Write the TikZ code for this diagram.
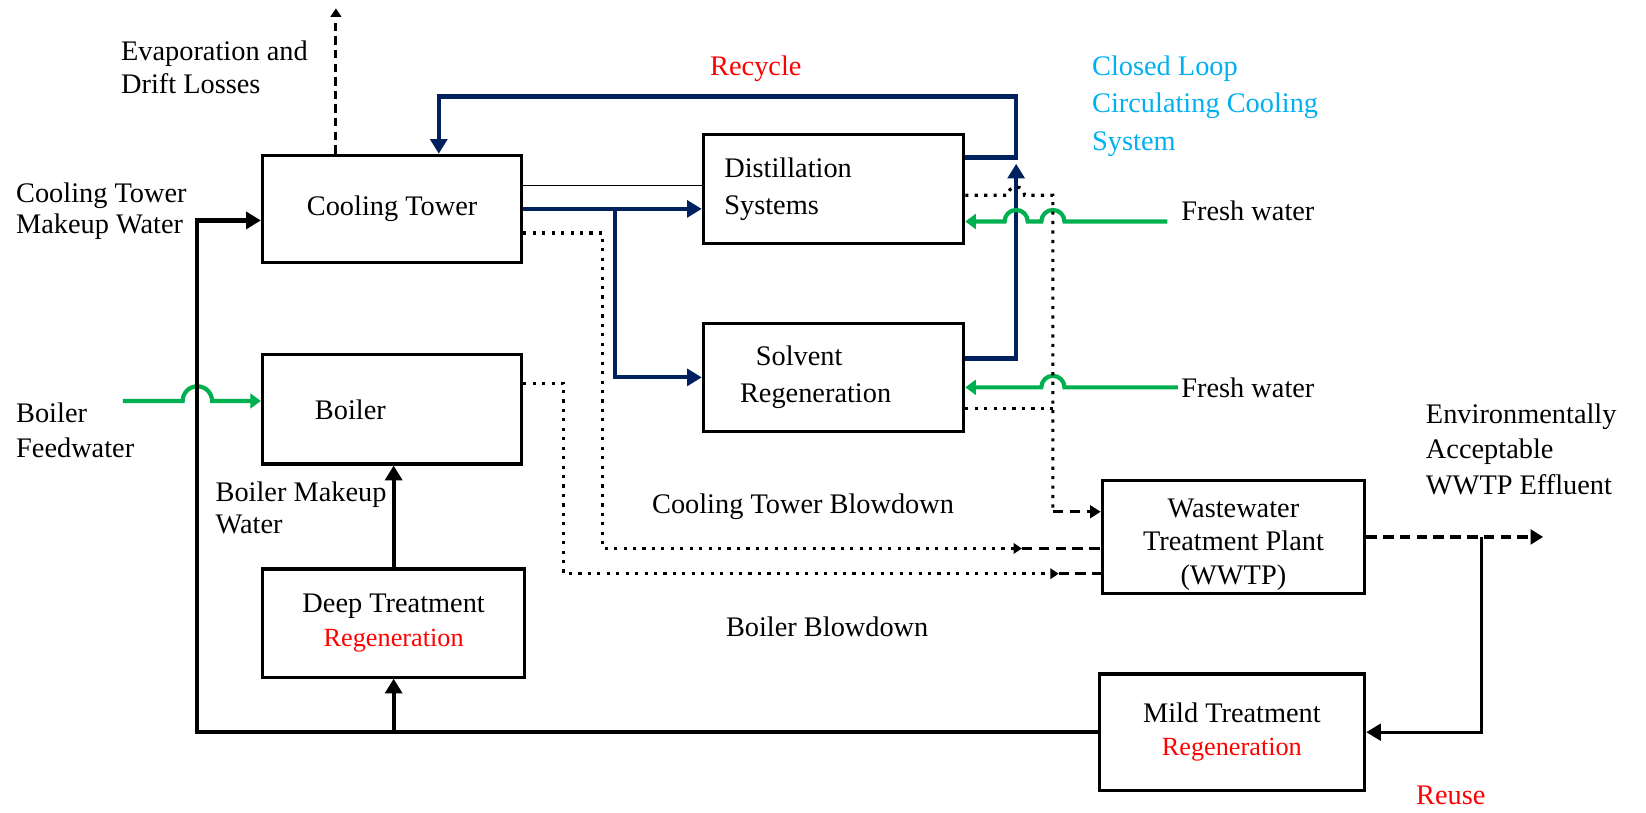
\documentclass[tikz,border=0pt]{standalone}
\usepackage{fontspec}
\setmainfont{Liberation Serif}
\usetikzlibrary{arrows.meta, calc}
\definecolor{navy}{RGB}{0,32,96}
\definecolor{freshgreen}{RGB}{0,176,80}
\definecolor{loopblue}{RGB}{0,176,240}
\newcommand{\regentext}{\textcolor{red}{\fontsize{12.5}{15}\selectfont Regeneration}}

\begin{document}
\begin{tikzpicture}[
    x=0.5pt, y=-0.5pt,
    txt/.style={font=\fontsize{13.5}{16}\selectfont, inner sep=0pt},
    plant/.style={draw, line width=1.5pt, inner sep=0pt, align=center,
      font=\fontsize{13.5}{16}\selectfont},
    navyline/.style={draw=navy, line width=2pt},
    navyarrow/.style={navyline, -{Triangle[length=7pt, width=8pt]}},
    feedline/.style={draw=freshgreen, line width=2pt, -{Triangle[length=5pt, width=7pt]}},
    mainline/.style={line width=2pt, -{Triangle[length=7pt, width=8pt]}},
    drain/.style={line width=1.5pt, dash pattern=on 1.5pt off 3pt,
      -{Triangle[length=4pt, width=5pt]}},
    waste/.style={line width=1.5pt, dash pattern=on 5pt off 3pt},
  ]
    \useasboundingbox (0,0) rectangle (1568,774);

    \node[plant, minimum width=123.5pt, minimum height=51pt] (ct) at (373.5,199) {Cooling Tower};
    \node[plant, minimum width=124pt, minimum height=52pt, text width=104pt, align=left,
      font=\fontsize{13.5}{17.5}\selectfont] (dist) at (794,180) {Distillation\\Systems};
    \node[plant, minimum width=124pt, minimum height=51.5pt, text width=89pt, align=left,
      font=\fontsize{13.5}{17.5}\selectfont] (solv) at (794,359.5) {\hspace*{7.5pt}Solvent\\Regeneration};
    \node[plant, minimum width=123.5pt, minimum height=52pt, text width=73.5pt, align=left] (boiler) at (373.5,390) {Boiler};
    \node[plant, minimum width=125pt, minimum height=51.5pt] (deep) at (375,593.5) {Deep Treatment\\\regentext};
    \node[plant, minimum width=125pt, minimum height=53.5pt] (wwtp) at (1175,511.5) {\rule{0pt}{16pt}Wastewater\\Treatment Plant\\(WWTP)};
    \node[plant, minimum width=126.5pt, minimum height=55.5pt] (mild) at (1173.5,697.5) {Mild Treatment\\\regentext};

    \node[txt, anchor=west, align=left] (evap) at (115,64) {Evaporation and\\Drift Losses};
    \node[txt, text=red] (recycle) at (720,65) {Recycle};
    \node[txt, anchor=west, align=left, text=loopblue, font=\fontsize{13.5}{18}\selectfont] (closed) at (1040,101) {Closed Loop\\Circulating Cooling\\System};
    \node[txt, anchor=west, align=left, font=\fontsize{13.5}{15}\selectfont] (ctmw) at (15,201) {Cooling Tower\\Makeup Water};
    \node[txt, anchor=west, align=left, font=\fontsize{13.5}{17}\selectfont] (bfw) at (15,410) {Boiler\\Feedwater};
    \node[txt, anchor=west, align=left, font=\fontsize{13.5}{15}\selectfont] (bmw) at (205,484) {Boiler Makeup\\Water};
    \node[txt] (ctbd) at (765,483) {Cooling Tower Blowdown};
    \node[txt] (bbd) at (788,597) {Boiler Blowdown};
    \node[txt, anchor=west] (fw1) at (1125,201) {Fresh water};
    \node[txt, anchor=west] (fw2) at (1125,369) {Fresh water};
    \node[txt, anchor=west, align=left, font=\fontsize{13.5}{17}\selectfont] (env) at (1358,428) {Environmentally\\Acceptable\\WWTP Effluent};
    \node[txt, text=red] (reuse) at (1382,758) {Reuse};

    \coordinate (evtop) at (320,8);
    \coordinate (rx) at (968,92);
    \coordinate (bx) at (586,199);
    \coordinate (dx) at (1003,186);
    \coordinate (ctbx) at (574,222);
    \coordinate (bbx) at (537,365);
    \coordinate (lx) at (188,702);
    \coordinate (fwa) at (1112,211);
    \coordinate (fwb) at (1122,369);
    \coordinate (bfa) at (117,382);
    \coordinate (effl) at (1470,511.5);
    \coordinate (rj) at (1411,511.5);
    \coordinate (thin) at ([yshift=11pt]ct.east);
    \coordinate (sd) at ([yshift=-15pt]solv.east);
    \coordinate (w1) at ([yshift=12pt]wwtp.west);
    \coordinate (w2) at ([yshift=-5.5pt]wwtp.west);
    \coordinate (w3) at ([yshift=-17.5pt]wwtp.west);
    \coordinate (ctin) at ([yshift=-5.5pt]ct.west);

    % losses and recycle
    \draw[line width=1.5pt, dash pattern=on 4pt off 2.5pt, -{Triangle[length=4pt, width=5pt]}] (evtop |- ct.north) -- (evtop);
    \draw[line width=0.6pt] (thin) -- (thin -| dist.west);
    \draw[navyarrow] (ct.east) -- (ct.east -| dist.west);
    \draw[navyarrow] (bx) |- (solv.west);
    \draw[navyarrow] ([yshift=9pt]solv.east) -| ($(rx |- dist.east)+(0pt,12pt)$);
    \draw[navyarrow] ([yshift=15pt]dist.east) -| (rx) -| ([xshift=22.25pt]ct.north);

    % fresh water
    \draw[feedline] (fwa) -- ($(dx |- fwa)+(5.5pt,0pt)$) arc[start angle=0, end angle=180, radius=5.5pt]
      -- ($(rx |- fwa)+(5.5pt,0pt)$) arc[start angle=0, end angle=180, radius=5.5pt] -- (fwa -| dist.east);
    \draw[feedline] (fwb) -- ($(dx |- fwb)+(5.5pt,0pt)$) arc[start angle=0, end angle=180, radius=5.5pt] -- (fwb -| solv.east);
    \draw[feedline] (bfa) -- ($(lx |- bfa)+(-7pt,0pt)$) arc[start angle=180, end angle=0, radius=7pt] -- (bfa -| boiler.west);

    % blowdown
    \draw[drain, -] ([yshift=-3pt]dist.east) -- ($(rx |- dx)+(-4pt,0pt)$) arc[start angle=180, end angle=0, radius=4pt]
      -- (dx) -- (dx |- w1);
    \draw[drain, -] (sd) -- (sd -| dx);
    \draw[waste, -{Triangle[length=5pt, width=6pt]}] (dx |- w1) -- (w1);
    \draw[drain] ([yshift=-11.5pt]ct.east) -| (ctbx |- w2) -- ($(w2)+(-37.5pt,0pt)$);
    \draw[waste] ($(w2)+(-37.5pt,0pt)$) -- (w2);
    \draw[drain] ([yshift=12.5pt]boiler.east) -| (bbx |- w3) -- ($(w3)+(-20pt,0pt)$);
    \draw[waste] ($(w3)+(-20pt,0pt)$) -- (w3);

    % effluent and reuse
    \draw[waste, -{Triangle[length=6pt, width=7pt]}] (wwtp.east) -- (effl);
    \draw[line width=1.4pt, -{Triangle[length=7pt, width=8pt]}] (rj) |- (mild.east);
    \draw[mainline] (mild.west) -| (lx |- ctin) -- (ctin);
    \draw[mainline] (deep.south |- mild.west) -- (deep.south);
    \draw[mainline] (deep.north) -- (deep.north |- boiler.south);
\end{tikzpicture}
\end{document}
